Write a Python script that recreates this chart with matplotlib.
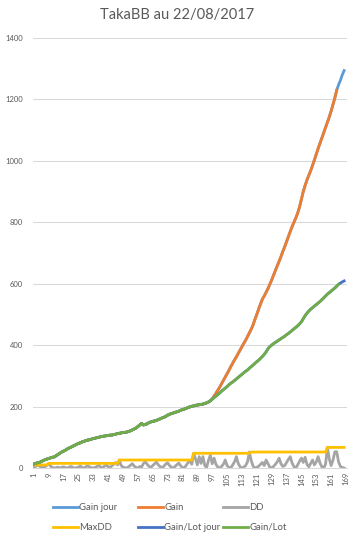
import matplotlib
matplotlib.use("Agg")
import matplotlib.pyplot as plt

# daily values (categories 1..168)
gain_lot_jour = [
    13, 15, 17, 18, 21, 24, 27, 29, 31, 33,
    35, 36, 40, 44, 48, 52, 55, 58, 62, 65,
    68, 71, 74, 77, 80, 82, 85, 87, 89, 91,
    92, 94, 96, 97, 99, 100, 102, 103, 104, 105,
    106, 107, 107, 109, 110, 112, 113, 114, 116, 116,
    117, 119, 121, 124, 127, 130, 135, 140, 145, 140,
    142, 144, 148, 150, 152, 153, 155, 158, 160, 163,
    165, 168, 172, 175, 177, 179, 181, 183, 185, 188,
    190, 192, 194, 197, 199, 201, 202, 204, 205, 206,
    207, 208, 210, 212, 215, 219, 224, 229, 234, 239,
    244, 250, 255, 260, 265, 271, 276, 280, 285, 290,
    295, 300, 305, 310, 315, 319, 325, 330, 335, 341,
    346, 351, 357, 363, 370, 378, 388, 395, 400, 405,
    409, 413, 417, 421, 425, 429, 434, 438, 443, 448,
    453, 458, 463, 469, 476, 486, 496, 504, 511, 517,
    522, 527, 532, 537, 542, 548, 554, 560, 566, 571,
    576, 581, 586, 592, 598, 602, 606, 609,
]

# Gain equals Gain/Lot up to day 96, then
gain_from_97 = [
    225, 234, 243, 253, 263, 274, 285, 296, 307, 318, 330, 341, 352,
    362, 373, 384, 395, 406, 416, 428, 440, 452, 466, 484, 500, 518,
    534, 550, 560, 572, 584, 598, 612, 628, 643, 658, 673, 688, 705,
    720, 737, 753, 770, 786, 800, 814, 830, 850, 875, 900, 920, 938,
    953, 968, 985, 1003, 1022, 1040, 1057, 1074, 1091, 1108, 1125,
    1143, 1162, 1183, 1205, 1230, 1248, 1262, 1280, 1294,
]
gain_jour = gain_lot_jour[:96] + gain_from_97
gain = gain_jour[:164]
gain_lot = gain_lot_jour[:165]

dd = [
    2, 5, 10, 6, 3, 1, 4, 8, 15, 6,
    2, 0, 1, 3, 0, 2, 4, 1, 0, 3,
    5, 2, 0, 1, 3, 6, 2, 0, 4, 7,
    3, 1, 0, 2, 5, 8, 3, 1, 6, 9,
    4, 2, 7, 12, 18, 10, 26, 8, 3, 1,
    0, 4, 9, 14, 6, 2, 0, 5, 3, 15,
    20, 12, 5, 2, 8, 14, 19, 10, 4, 1,
    6, 13, 17, 8, 3, 0, 5, 11, 16, 7,
    2, 0, 9, 18, 22, 12, 48, 30, 10, 37,
    15, 37, 8, 2, 25, 42, 14, 32, 12, 3,
    0, 5, 12, 26, 8, 2, 0, 10, 20, 37,
    15, 4, 0, 3, 8, 20, 52, 24, 6, 0,
    2, 6, 12, 18, 8, 26, 14, 3, 0, 5,
    12, 20, 32, 14, 5, 8, 18, 28, 37, 16,
    4, 0, 10, 22, 32, 18, 35, 12, 4, 15,
    26, 10, 20, 37, 16, 4, 0, 12, 67, 30,
    8, 25, 53, 53, 20, 5, 2, 0,
]
max_dd = [10] * 8 + [15] * 38 + [26] * 40 + [48] * 31 + [52] * 41 + [67] * 10

n_cat = 169
tick_labels = list(range(1, n_cat + 1, 8))

plt.rcParams['font.family'] = ['Lato', 'DejaVu Sans']
txt = '#595959'

fig = plt.figure(figsize=(3.54, 5.37), dpi=100)
ax = fig.add_axes([0.093, 0.1285, 0.887, 0.8007])

def days(vals):
    return list(range(1, len(vals) + 1))

lw = 2.0
h_gj, = ax.plot(days(gain_jour), gain_jour, color='#5B9BD5', lw=lw, label='Gain jour')
h_g, = ax.plot(days(gain), gain, color='#ED7D31', lw=lw, label='Gain')
h_dd, = ax.plot(days(dd), dd, color='#A5A5A5', lw=lw, label='DD')
h_mdd, = ax.plot(days(max_dd), max_dd, color='#FFC000', lw=lw, label='MaxDD')
h_glj, = ax.plot(days(gain_lot_jour), gain_lot_jour, color='#4472C4', lw=lw, label='Gain/Lot jour')
h_gl, = ax.plot(days(gain_lot), gain_lot, color='#70AD47', lw=lw, label='Gain/Lot')

ax.set_xlim(0.5, n_cat + 0.5)
ax.set_ylim(0, 1400)
ax.set_yticks(range(0, 1401, 200))
ax.set_xticks(tick_labels)
ax.set_xticklabels([str(t) for t in tick_labels], rotation=90, fontsize=5.5, color=txt)
ax.tick_params(axis='y', length=0, labelsize=5.5, labelcolor=txt, pad=7)
ax.tick_params(axis='x', length=0, pad=3)
ax.grid(axis='y', color='#D9D9D9', lw=0.75)
ax.set_axisbelow(True)
for s in ['top', 'right', 'left']:
    ax.spines[s].set_visible(False)
ax.spines['bottom'].set_color('#D9D9D9')
ax.spines['bottom'].set_linewidth(0.75)

fig.text(0.5, 0.972, 'TakaBB au 22/08/2017', ha='center', va='center',
         fontsize=10.5, color=txt)

# Excel-style legend: three fixed-width columns, two rows
columns = [(h_gj, h_mdd), (h_g, h_glj), (h_dd, h_gl)]
col_x = [53 / 354, 138 / 354, 223 / 354]
for cx, hs in zip(col_x, columns):
    leg = fig.legend(handles=list(hs), labels=[h.get_label() for h in hs],
                     loc='center left', bbox_to_anchor=(cx, 0.036), ncol=1,
                     frameon=False, fontsize=6.8, handlelength=2.6,
                     handletextpad=0.2, borderpad=0, borderaxespad=0,
                     labelcolor=txt, labelspacing=1.1)

fig.savefig('out.png', dpi=100)
